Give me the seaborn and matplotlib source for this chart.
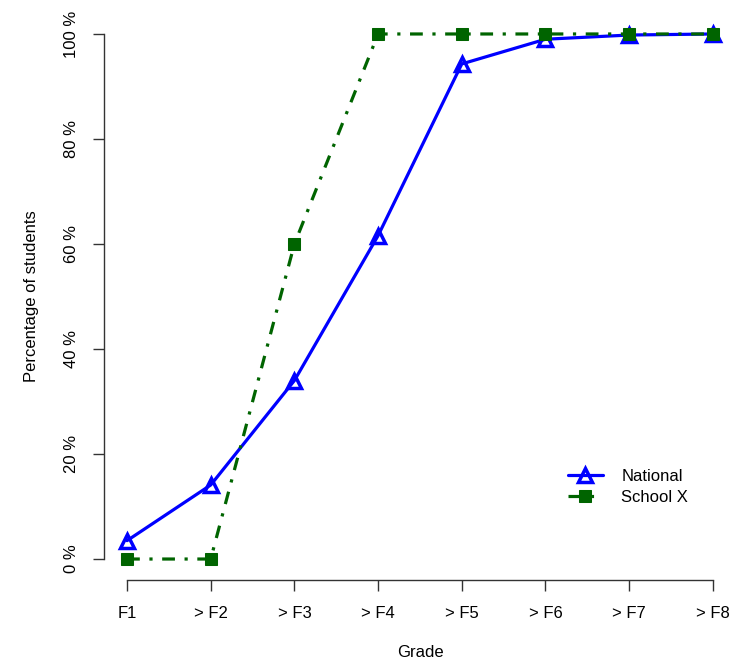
import numpy as np
import pandas as pd
import seaborn as sns
import matplotlib
matplotlib.use('Agg')
import matplotlib.pyplot as plt
from matplotlib.ticker import FuncFormatter

grades = ['F1', '> F2', '> F3', '> F4', '> F5', '> F6', '> F7', '> F8']
national = [3.5, 14.1, 34.0, 61.6, 94.3, 99.0, 99.8, 100.0]
school_x = [0, 0, 60, 100, 100, 100, 100, 100]

sns.set_style('white')
plt.rcParams['font.family'] = ['Liberation Sans', 'DejaVu Sans']
plt.rcParams['text.color'] = 'black'
plt.rcParams['xtick.color'] = '#333333'
plt.rcParams['ytick.color'] = '#333333'
plt.rcParams['xtick.labelcolor'] = 'black'
plt.rcParams['ytick.labelcolor'] = 'black'
plt.rcParams['axes.labelcolor'] = 'black'

df = pd.DataFrame({'pos': np.arange(len(grades)), 'National': national, 'School X': school_x})

fig = plt.figure(figsize=(7.4, 6.69), dpi=100)
ax = fig.add_axes([0.140, 0.133, 0.855, 0.8476])

sns.lineplot(data=df, x='pos', y='National', ax=ax, color='#0000ff', lw=2.3,
             marker='^', markersize=10, markerfacecolor='none',
             markeredgecolor='#0000ff', markeredgewidth=2.5, label='National')
sns.lineplot(data=df, x='pos', y='School X', ax=ax, color='#006400', lw=2.3,
             marker='s', markersize=8, markeredgecolor='#006400',
             label='School X')
ax.lines[-1].set_dashes((4, 3, 1, 3))

ax.set_xlim(-0.28, len(grades) - 1 + 0.28)
ax.set_ylim(-4, 104)
ax.set_xticks(range(len(grades)))
ax.set_xticklabels(grades)
ax.set_yticks([0, 20, 40, 60, 80, 100])
ax.yaxis.set_major_formatter(FuncFormatter(lambda v, p: '%d %%' % v))
for lab in ax.get_yticklabels():
    lab.set_rotation(90)
    lab.set_va('center')

ax.spines['top'].set_visible(False)
ax.spines['right'].set_visible(False)
ax.spines['left'].set_bounds(0, 100)
ax.spines['bottom'].set_bounds(0, len(grades) - 1)
for s in ['left', 'bottom']:
    ax.spines[s].set_color('#333333')
    ax.spines[s].set_linewidth(1)

ax.tick_params(axis='both', which='major', direction='out', length=8, width=1,
               labelsize=12, pad=9, left=True, bottom=True)
ax.tick_params(axis='x', pad=11)
ax.tick_params(axis='y', pad=10)

ax.set_xlabel('Grade', fontsize=12, labelpad=17)
ax.set_ylabel('Percentage of students', fontsize=12, labelpad=18)

leg = ax.legend(loc='upper left', bbox_to_anchor=(0.71, 0.222), frameon=False,
                fontsize=12, handlelength=2.1, handletextpad=1.1, labelspacing=0.35)

fig.savefig('out.png', dpi=100)
